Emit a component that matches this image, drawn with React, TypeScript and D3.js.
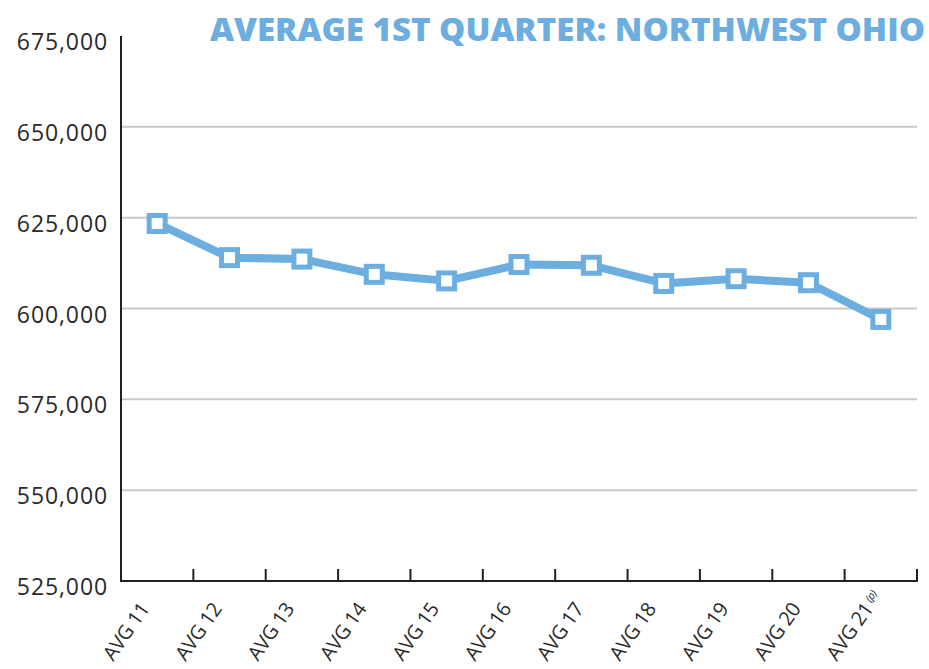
import { useEffect, useRef } from 'react';
import * as d3 from 'd3';

// data
const categories = ['AVG 11', 'AVG 12', 'AVG 13', 'AVG 14', 'AVG 15', 'AVG 16', 'AVG 17', 'AVG 18', 'AVG 19', 'AVG 20', 'AVG 21'];
const values = [623400, 614000, 613600, 609400, 607600, 612100, 611900, 606900, 608200, 607100, 597000];
const yTicks = [525000, 550000, 575000, 600000, 625000, 650000, 675000];

const W = 929;
const H = 669;
const BLUE = '#6caee0';

const App = () => {
  const svgRef = useRef<SVGSVGElement | null>(null);

  useEffect(() => {
    const svg = d3.select(svgRef.current);
    svg.selectAll('*').remove();

    const left = 121, right = 917, top = 36, bottom = 581;

    const x = d3.scaleBand().domain(categories).range([left, right]);
    const y = d3.scaleLinear().domain([525000, 675000]).range([bottom, top]);
    const fmt = d3.format(',');

    // gridlines
    svg.append('g')
      .selectAll('line')
      .data(yTicks.filter(t => t > 525000 && t < 675000))
      .join('line')
      .attr('x1', left).attr('x2', right)
      .attr('y1', d => y(d)).attr('y2', d => y(d))
      .attr('stroke', '#c9c9c9')
      .attr('stroke-width', 2);

    // y labels
    svg.append('g')
      .selectAll('text')
      .data(yTicks)
      .join('text')
      .attr('x', 108)
      .attr('y', d => y(d) + 14)
      .attr('text-anchor', 'end')
      .style('font-family', '"Open Sans", sans-serif')
      .style('font-size', '23px')
      .style('letter-spacing', '0.9px')
      .attr('fill', '#2a2a2a')
      .text(d => fmt(d));

    // axes
    svg.append('line')
      .attr('x1', left).attr('x2', left).attr('y1', top).attr('y2', bottom + 1)
      .attr('stroke', '#231f20').attr('stroke-width', 2);
    svg.append('line')
      .attr('x1', left - 1).attr('x2', right + 1).attr('y1', bottom).attr('y2', bottom)
      .attr('stroke', '#231f20').attr('stroke-width', 2);

    // x ticks at band edges
    const edges = categories.map(c => x(c) as number).concat([right]);
    svg.append('g')
      .selectAll('line')
      .data(edges.slice(1))
      .join('line')
      .attr('x1', d => d).attr('x2', d => d)
      .attr('y1', bottom - 12).attr('y2', bottom)
      .attr('stroke', '#231f20').attr('stroke-width', 2);

    // x labels, rotated, anchored at their start
    svg.append('g')
      .selectAll('text')
      .data(categories)
      .join('text')
      .attr('transform', d => `translate(${(x(d) as number) + x.bandwidth() / 2 - 44},${bottom + 81}) rotate(-55)`)
      .attr('text-anchor', 'start')
      .style('font-family', '"Open Sans", sans-serif')
      .style('font-size', '20px')
      .style('letter-spacing', '-0.4px')
      .attr('fill', '#2a2a2a')
      .call(t => {
        t.append('tspan').text(d => d);
        t.filter((d, i) => i === categories.length - 1)
          .append('tspan')
          .attr('dx', 3).attr('dy', -6)
          .style('font-size', '11px')
          .style('font-style', 'italic')
          .text('(p)');
      });

    // line
    const line = d3.line<number>()
      .x((d, i) => (x(categories[i]) as number) + x.bandwidth() / 2)
      .y(d => y(d));
    svg.append('path')
      .datum(values)
      .attr('d', line)
      .attr('fill', 'none')
      .attr('stroke', BLUE)
      .attr('stroke-width', 8)
      .attr('stroke-linejoin', 'round');

    // square markers
    svg.append('g')
      .selectAll('rect')
      .data(values)
      .join('rect')
      .attr('x', (d, i) => (x(categories[i]) as number) + x.bandwidth() / 2 - 8)
      .attr('y', d => y(d) - 8)
      .attr('width', 16).attr('height', 16)
      .attr('fill', '#fff')
      .attr('stroke', BLUE)
      .attr('stroke-width', 5);

    // title
    svg.append('text')
      .attr('x', 925)
      .attr('y', 41)
      .attr('text-anchor', 'end')
      .attr('textLength', 715)
      .attr('lengthAdjust', 'spacingAndGlyphs')
      .style('font-family', '"Open Sans", sans-serif')
      .style('font-weight', 800)
      .style('font-size', '31px')
      .attr('fill', BLUE)
      .text('AVERAGE 1ST QUARTER: NORTHWEST OHIO');
  }, []);

  return (
    <svg
      ref={svgRef}
      width={W}
      height={H}
      style={{ position: 'absolute', left: 0, top: 0, background: '#fff' }}
    />
  );
};

export default App;
